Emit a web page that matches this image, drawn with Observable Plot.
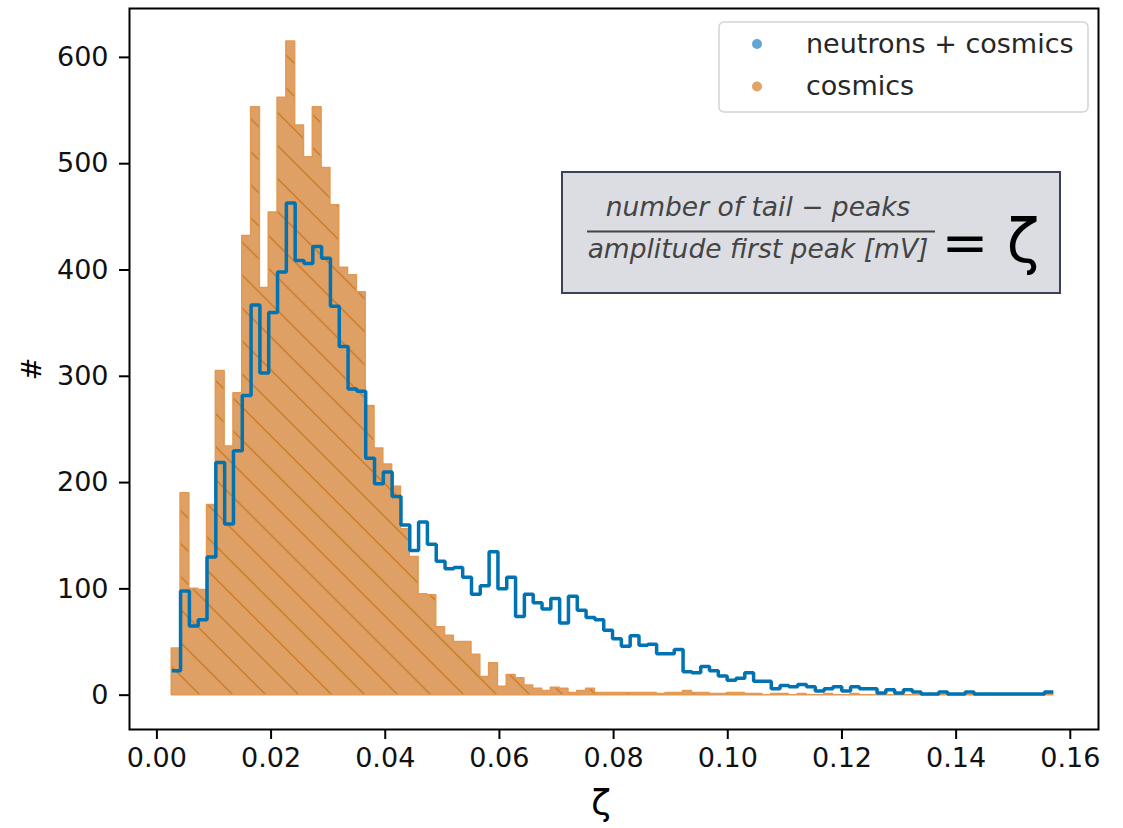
<!DOCTYPE html>
<html><head><meta charset="utf-8">
<script src="https://cdn.jsdelivr.net/npm/d3@7"></script>
<script src="https://cdn.jsdelivr.net/npm/@observablehq/plot@0.6"></script>
<style>body{margin:0;background:#fff;overflow:hidden} svg{display:block}</style>
</head><body><div id="chart"></div>
<script>
// histogram bin layout (100 equal bins)
const binStart = 0.0026;
const binWidth = 0.0015443;

const cosmics = [
  44,190,100,99,179,305,234,284,432,553,
  383,454,562,615,536,506,553,496,461,402,
  395,379,272,232,217,196,156,130,95,94,
  64,56,50,50,38,17,30,8,19,16,
  9,6,4,7,6,2,4,6,2,2,
  2,2,2,2,2,1,2,2,4,2,
  2,1,1,2,2,1,1,0,1,1,
  0,1,0,0,1,0,0,1,0,0,
  1,0,0,0,0,0,1,0,0,0,
  0,0,1,0,0,0,0,0,0,1
];
const neutronsCosmics = [
  23,98,65,71,130,219,161,230,282,367,
  303,360,398,463,409,406,422,411,366,328,
  288,286,223,199,210,187,160,136,163,142,
  126,119,120,111,95,103,135,100,111,74,
  95,87,81,91,68,93,80,73,71,61,
  53,46,56,47,48,39,39,43,22,21,
  27,23,18,14,16,21,13,13,6,9,
  8,10,8,4,6,8,4,8,6,6,
  2,5,2,5,3,1,1,3,1,1,
  3,1,1,1,1,1,1,1,1,3
];
const seriesNames = ["neutrons + cosmics", "cosmics"];
const xTicks = [0, 0.02, 0.04, 0.06, 0.08, 0.10, 0.12, 0.14, 0.16];
const yTicks = [0, 100, 200, 300, 400, 500, 600];
const xLabel = "ζ";
const yLabel = "#";
const formulaNumerator = "number of tail − peaks";
const formulaDenominator = "amplitude first peak [mV]";
const formulaEquals = "=";
const formulaSymbol = "ζ";

const blue = "#0173b2";
const orangeFill = "#dea064";
const orangeEdge = "#e3994f";
const hatchColor = "#cf8134";
const FS = 27;

function stepPoints(values) {
  const pts = values.map((v, i) => ({x: binStart + i * binWidth, y: v}));
  pts.push({x: binStart + values.length * binWidth, y: values[values.length - 1]});
  return pts;
}
const cosPts = stepPoints(cosmics);
const ncPts = stepPoints(neutronsCosmics);

const chart = Plot.plot({
  width: 1123, height: 828,
  marginLeft: 129, marginRight: 25, marginTop: 8, marginBottom: 99,
  style: {fontFamily: "DejaVu Sans", fontSize: FS + "px", color: "#000", background: "#fff"},
  x: {domain: [-0.0048, 0.16494]},
  y: {domain: [-32.3, 646]},
  marks: [
    Plot.areaY(cosPts, {x: "x", y: "y", curve: "step-after", fill: orangeFill}),
    Plot.areaY(cosPts, {x: "x", y: "y", curve: "step-after", fill: "url(#hatch)"}),
    Plot.areaY(cosPts, {x: "x", y: "y", curve: "step-after", fill: "none", stroke: orangeEdge, strokeWidth: 1.5}),
    Plot.lineY(ncPts, {x: "x", y: "y", curve: "step-after", stroke: blue, strokeWidth: 3.5, strokeLinejoin: "miter", strokeLinecap: "butt"}),
    Plot.frame({stroke: "#000", strokeWidth: 2}),
    Plot.axisX({ticks: xTicks, tickFormat: d3.format(".2f"), tickSize: 10, tickPadding: 8, strokeWidth: 2, fontSize: FS, label: null}),
    Plot.axisY({ticks: yTicks, tickFormat: d => String(d), tickSize: 10, tickPadding: 11, strokeWidth: 2, fontSize: FS, label: null})
  ]
});

const svg = d3.select(chart);
svg.selectAll("g[aria-label$='tick label']").attr("font-size", FS).attr("fill", "#111");
svg.insert("defs", ":first-child").html(
  `<pattern id="hatch" patternUnits="userSpaceOnUse" width="33" height="33">
     <path d="M-8,25 L8,41 M0,0 L33,33 M25,-8 L41,8" stroke="${hatchColor}" stroke-width="1.8" fill="none"/>
   </pattern>`);

const ann = svg.append("g").attr("font-family", "DejaVu Sans").attr("text-anchor", "start");
// axis labels
ann.append("text").attr("x", 601).attr("y", 815).attr("text-anchor", "middle")
  .attr("font-size", 36).attr("fill", "#000").text(xLabel);
ann.append("text").attr("transform", "translate(41,369) rotate(-90)").attr("text-anchor", "middle")
  .attr("font-size", FS).attr("fill", "#000").text(yLabel);

// legend
const lg = ann.append("g");
lg.append("rect").attr("x", 719).attr("y", 22).attr("width", 369).attr("height", 90).attr("rx", 5)
  .attr("fill", "#fff").attr("fill-opacity", 0.8).attr("stroke", "#d4d4d4").attr("stroke-width", 1.5);
const legendColors = ["#62a6d6", "#e2a366"];
seriesNames.forEach((name, i) => {
  const cy = 44 + i * 42.5;
  lg.append("circle").attr("cx", 757).attr("cy", cy).attr("r", 5).attr("fill", legendColors[i]);
  lg.append("text").attr("x", 806).attr("y", cy + 8.5).attr("text-anchor", "start")
    .attr("font-size", FS).attr("fill", "#262626").text(name);
});

// formula box
const fb = ann.append("g");
fb.append("rect").attr("x", 562).attr("y", 172).attr("width", 498).attr("height", 121)
  .attr("fill", "#dcdde3").attr("stroke", "#3c4058").attr("stroke-width", 2);
fb.append("text").attr("x", 758).attr("y", 216).attr("text-anchor", "middle").attr("font-size", 26.5)
  .attr("font-style", "italic").attr("fill", "#444").text(formulaNumerator);
fb.append("line").attr("x1", 587).attr("x2", 935).attr("y1", 231.5).attr("y2", 231.5)
  .attr("stroke", "#444").attr("stroke-width", 2);
fb.append("text").attr("x", 758).attr("y", 258).attr("text-anchor", "middle").attr("font-size", 26.5)
  .attr("font-style", "italic").attr("fill", "#444").text(formulaDenominator);
fb.append("text").attr("x", 965).attr("y", 262).attr("text-anchor", "middle").attr("font-size", 56)
  .attr("fill", "#000").text(formulaEquals);
fb.append("text").attr("x", 1023).attr("y", 262).attr("text-anchor", "middle").attr("font-size", 60)
  .attr("fill", "#000").text(formulaSymbol);

document.getElementById("chart").appendChild(chart);
</script>
</body></html>
